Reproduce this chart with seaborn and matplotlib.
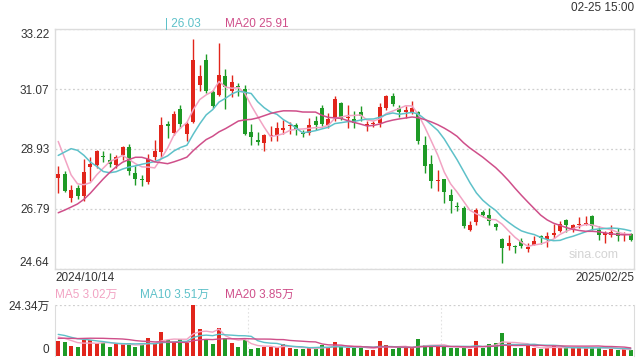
import numpy as np
import pandas as pd
import matplotlib
matplotlib.use('Agg')
import matplotlib.pyplot as plt
import seaborn as sns

## daily candles 2024/10/14 .. 2025/02/25
opens = [27.91, 28.05, 27.18, 27.54, 27.24, 28.28, 28.37, 28.67, 28.53, 28.37,
         28.70, 29.00, 28.07, 27.85, 27.75, 28.66, 28.82, 29.82, 29.50, 30.37,
         29.47, 29.88, 31.21, 32.12, 30.96, 30.87, 31.53, 30.99, 31.15, 31.09,
         29.54, 29.25, 29.15, 29.40, 29.42, 29.60, 29.76, 29.78, 29.48, 29.50,
         29.92, 30.40, 29.80, 30.06, 30.57, 30.04, 30.00, 30.24, 29.74, 29.82,
         29.86, 30.40, 30.81, 30.40, 30.24, 30.26, 30.26, 29.06, 28.40, 27.77,
         27.87, 27.30, 26.86, 26.82, 26.05, 26.31, 26.68, 26.56, 26.26, 25.71,
         25.45, 25.48, 25.65, 25.36, 25.51, 25.81, 25.71, 25.84, 26.01, 26.40,
         26.08, 26.21, 26.25, 26.52, 26.05, 25.84, 25.87, 25.93, 25.84, 25.89]
closes = [28.05, 27.42, 27.45, 27.24, 28.11, 28.40, 28.85, 28.63, 28.40, 28.63,
          29.00, 28.13, 27.87, 27.83, 28.59, 28.85, 29.80, 29.74, 30.18, 29.84,
          29.82, 32.12, 31.53, 31.02, 30.46, 31.59, 31.13, 31.31, 31.14, 29.47,
          29.37, 29.18, 29.42, 29.42, 29.68, 29.68, 29.78, 29.62, 29.47, 29.80,
          29.80, 29.82, 30.01, 30.73, 30.01, 30.04, 29.86, 30.10, 29.82, 29.84,
          30.43, 30.81, 30.54, 30.26, 30.34, 30.40, 29.21, 28.31, 27.80, 27.83,
          27.39, 27.08, 26.85, 26.17, 26.20, 26.76, 26.58, 26.35, 26.13, 25.39,
          25.57, 25.43, 25.45, 25.42, 25.63, 25.75, 25.81, 25.94, 26.25, 26.22,
          26.20, 26.23, 26.26, 26.17, 25.87, 25.93, 25.97, 25.81, 25.90, 25.69]
highs = [28.31, 28.13, 27.66, 27.63, 28.57, 28.63, 28.91, 28.85, 28.79, 28.73,
         29.02, 29.11, 28.31, 28.01, 28.75, 29.24, 30.06, 29.92, 30.28, 30.49,
         29.90, 32.86, 31.95, 32.33, 31.05, 32.72, 31.80, 31.59, 31.29, 31.21,
         29.84, 29.54, 29.47, 29.74, 29.88, 29.98, 29.90, 29.86, 29.62, 30.04,
         30.10, 30.52, 30.22, 30.81, 30.61, 30.52, 30.28, 30.46, 29.92, 29.94,
         30.57, 30.87, 30.93, 30.52, 30.46, 30.63, 30.30, 29.38, 28.73, 28.19,
         27.87, 27.51, 27.03, 26.88, 26.34, 26.82, 26.76, 26.82, 26.29, 25.75,
         25.87, 25.51, 25.75, 25.57, 25.81, 25.87, 25.96, 26.25, 26.37, 26.44,
         26.25, 26.49, 26.55, 26.56, 26.17, 26.01, 26.20, 26.10, 25.96, 25.93]
lows = [27.36, 27.39, 27.04, 27.16, 27.06, 27.77, 28.25, 28.47, 28.27, 28.25,
        28.55, 28.01, 27.63, 27.60, 27.69, 28.55, 28.61, 29.32, 29.42, 29.68,
        29.20, 29.86, 30.99, 30.93, 30.40, 30.81, 30.37, 30.78, 30.81, 29.42,
        29.06, 29.06, 28.87, 29.20, 29.20, 29.47, 29.47, 29.42, 29.35, 29.42,
        29.62, 29.74, 29.68, 29.92, 29.98, 29.68, 29.68, 29.92, 29.56, 29.70,
        29.70, 30.34, 30.46, 30.06, 30.04, 30.18, 29.11, 28.07, 27.54, 27.44,
        27.00, 26.64, 26.70, 26.11, 25.99, 26.23, 26.49, 26.20, 26.05, 24.86,
        25.33, 25.21, 25.39, 25.25, 25.49, 25.53, 25.42, 25.75, 25.96, 25.96,
        25.96, 26.11, 26.22, 26.05, 25.69, 25.57, 25.77, 25.63, 25.65, 25.63]
## volume, in 万 shares
volumes = [7.2, 6.8, 4.9, 4.1, 7.6, 7.6, 6.0, 6.4, 4.5, 5.6,
           5.6, 6.0, 4.5, 5.2, 8.4, 6.0, 11.6, 7.6, 6.8, 8.0,
           6.0, 24.34, 12.9, 8.0, 5.7, 13.2, 8.4, 6.0, 4.5, 7.6,
           3.2, 3.7, 4.5, 4.5, 4.5, 5.6, 3.7, 3.2, 3.2, 3.7,
           4.0, 5.2, 4.0, 6.8, 4.5, 4.0, 4.0, 4.0, 2.9, 2.9,
           7.3, 5.2, 3.3, 3.7, 3.7, 3.7, 8.1, 5.2, 4.9, 4.1,
           4.5, 4.0, 4.0, 4.0, 3.2, 7.2, 4.0, 5.6, 6.0, 10.8,
           6.2, 3.6, 4.0, 4.6, 4.0, 3.2, 3.6, 5.4, 3.8, 3.6,
           3.7, 3.7, 4.0, 4.5, 4.0, 3.0, 3.3, 2.9, 3.2, 2.7]

## sessions before 10/14 (not drawn, only feed the moving averages)
prior_closes = [25.5, 25.3, 25.0, 24.8, 24.0, 23.7, 23.6, 23.8, 24.6, 25.7,
                26.2, 26.25, 27.84, 29.9, 30.81, 30.4, 30.45, 28.84, 28.26]
prior_volumes = [5.5, 6.0, 6.2, 5.8, 6.0, 6.5, 6.8, 7.0, 7.2, 8.0,
                 12.0, 13.5, 11.0, 10.5, 11.0, 10.0, 9.8, 9.2, 9.0]

price_ticks = [24.64, 26.79, 28.93, 31.07, 33.22]
vol_top = 24.34
start_label, end_label = '2024/10/14', '2025/02/25'

RED, GREEN = '#e1251b', '#1e9a26'
C5, C10, C20 = '#f2a3c3', '#5ec1c9', '#cf4f8a'
GRID = '#cfcfcf'
BORDER = '#dcdcdc'
TXT = '#333333'

sns.set_style('white')
plt.rcParams['font.family'] = ['Liberation Sans', 'Noto Sans CJK SC']

df = pd.DataFrame({'open': opens, 'high': highs, 'low': lows,
                   'close': closes, 'vol': volumes})
df['i'] = np.arange(len(df))
n = len(df)
up = df.close >= df.open
cols = np.where(up, RED, GREEN)

all_c = pd.Series(prior_closes + closes)
all_v = pd.Series(prior_volumes + volumes)
k = len(prior_closes)
for w in (5, 10, 20):
    df['ma%d' % w] = all_c.rolling(w).mean().iloc[k:].values
    df['vma%d' % w] = all_v.rolling(w).mean().iloc[k:].values

fig = plt.figure(figsize=(6.4, 3.6), dpi=100)
ax = fig.add_axes([55/640, 1-269/360, 579/640, 240/360])
ax2 = fig.add_axes([55/640, 1-356/360, 579/640, 51/360])

## candles
ax.vlines(df.i, df.low, df.high, colors=cols, lw=1, zorder=3)
body_lo = np.minimum(df.open, df.close)
body_h = np.maximum(np.abs(df.close - df.open), 0.025)
ax.bar(df.i, body_h, bottom=body_lo, width=0.62, color=cols, lw=0, zorder=4)

for w, c in ((5, C5), (10, C10), (20, C20)):
    sns.lineplot(x=df.i, y=df['ma%d' % w], ax=ax, color=c, lw=1.1, legend=False, zorder=5)

ax.set_xlim(-0.5, n - 0.5)
ax.set_ylim(price_ticks[0], price_ticks[-1])
ax.set_yticks(price_ticks)
ax.set_yticklabels(['%.2f' % t for t in price_ticks], fontsize=8.5, color=TXT)
tl = ax.get_yticklabels()
tl[0].set_va('bottom')
tl[-1].set_va('top')
ax.tick_params(axis='y', length=0, pad=4)
ax.set_xticks([])
ax.set_xlabel('')
ax.set_ylabel('')
ax.yaxis.grid(True, linestyle=(0, (1.5, 2)), color=GRID, lw=0.9)
for s in ax.spines.values():
    s.set_color(BORDER)
    s.set_linewidth(1)

ax.text(0.93, 0.06, 'sina.com', transform=ax.transAxes, ha='center', va='center',
        fontsize=9, color='#d4d4d4')

## volume
ax2.bar(df.i, df.vol, width=0.62, color=cols, lw=0, zorder=3)
for w, c in ((5, C5), (10, C10), (20, C20)):
    sns.lineplot(x=df.i, y=df['vma%d' % w], ax=ax2, color=c, lw=1, legend=False, zorder=4)
ax2.set_xlim(-0.5, n - 0.5)
ax2.set_ylim(0, vol_top)
ax2.set_yticks([0, vol_top])
ax2.set_yticklabels(['0', '%.2f万' % vol_top], fontsize=8.5, color=TXT)
ax2.get_yticklabels()[0].set_va('bottom')
ax2.tick_params(axis='y', length=0, pad=4)
ax2.set_xticks([])
ax2.set_xlabel('')
ax2.set_ylabel('')
ax2.axhline(vol_top, linestyle=(0, (1.5, 2)), color=GRID, lw=0.9)
for f in (1/3, 2/3):
    ax2.axvline(-0.5 + n*f, linestyle=(0, (1.5, 2)), color='#e2e2e2', lw=0.8, zorder=1)
ax2.spines['top'].set_visible(False)
ax2.spines['bottom'].set_visible(False)
for s in ('left', 'right'):
    ax2.spines[s].set_color(BORDER)

## texts
def px(x, y, s, **kw):
    fig.text(x/640, 1 - y/360, s, fontsize=8.5, va='center', **kw)

px(634, 8, '02-25 15:00', ha='right', color=TXT)
px(165, 24, '| %.2f' % 26.03, ha='left', color=C10)
px(225, 24, 'MA20 %.2f' % 25.91, ha='left', color=C20)
px(55, 278, start_label, ha='left', color=TXT)
px(634, 278, end_label, ha='right', color=TXT)
px(55, 295, 'MA5 3.02万', ha='left', color=C5)
px(140, 295, 'MA10 3.51万', ha='left', color=C10)
px(225, 295, 'MA20 3.85万', ha='left', color=C20)

fig.savefig('out.png', dpi=100)
